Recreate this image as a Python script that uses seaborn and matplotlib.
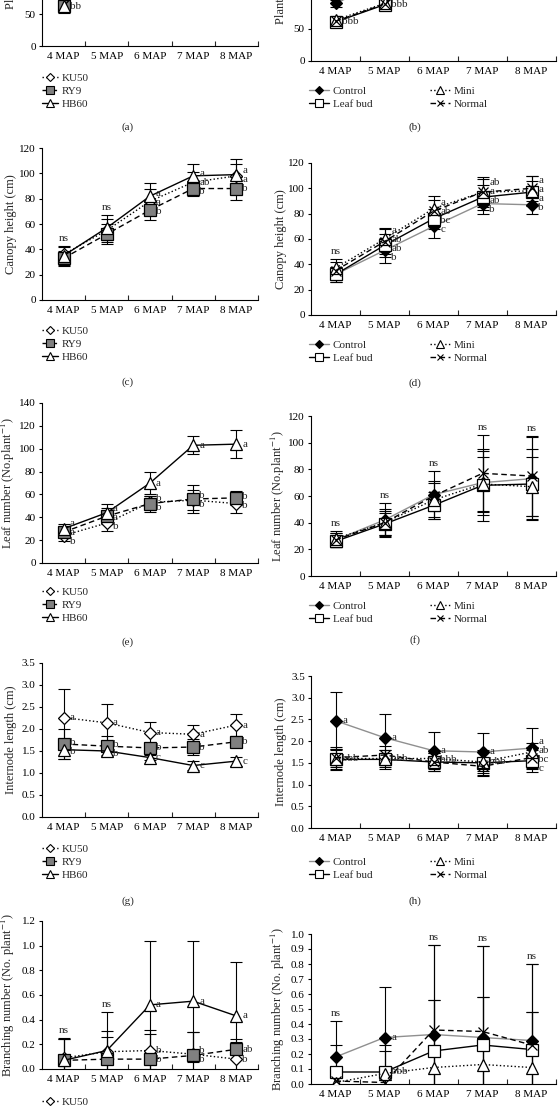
import matplotlib
matplotlib.use('Agg')
import seaborn as sns
import matplotlib.pyplot as plt
from matplotlib.lines import Line2D

W, H = 558, 1107

times = ['4 MAP', '5 MAP', '6 MAP', '7 MAP', '8 MAP']
cultivars = ['KU50', 'RY9', 'HB60']
treatments = ['Control', 'Leaf bud', 'Mini', 'Normal']

# (a) plant height by cultivar (only the bottom of this panel is in the crop)
height_cv_mean = [[65, 132, 178, 205, 220], [63, 126, 170, 198, 212], [62, 136, 184, 214, 228]]
height_cv_sd = [[9, 12, 14, 15, 15], [9, 12, 14, 15, 15], [10, 12, 14, 15, 15]]
height_cv_letters = [['', '', '', '', ''], ['', '', '', '', ''], ['bb', '', '', '', '']]
height_cv_ns = [False, False, False, False, False]

# (b) plant height by planting material
height_tr_mean = [[90, 125, 165, 195, 210], [61, 88, 150, 185, 205], [64, 90, 155, 190, 205], [62, 89, 152, 188, 206]]
height_tr_sd = [[6, 10, 12, 14, 15], [7, 6, 12, 14, 15], [7, 6, 12, 14, 15], [7, 6, 12, 14, 15]]
height_tr_letters = [['', '', '', '', ''], ['bbb', 'bbb', '', '', ''], ['', '', '', '', ''], ['', '', '', '', '']]
height_tr_ns = [False, False, False, False, False]

# (c) canopy height by cultivar
canopy_cv_mean = [[36, 55, 78, 93, 98], [33, 52, 71, 88, 88], [35, 57, 82, 98, 99]]
canopy_cv_sd = [[7, 9, 10, 8, 9], [6, 8, 8, 6, 9], [7, 10, 10, 9, 12]]
canopy_cv_letters = [['', '', 'a', 'ab', 'a'], ['', '', 'b', 'b', 'b'], ['', '', 'a', 'a', 'a']]
canopy_cv_ns = [True, True, False, False, False]

# (d) canopy height by planting material
canopy_tr_mean = [[32, 51, 70, 88, 87], [32, 55, 76, 93, 97], [37, 60, 84, 97, 98], [35, 58, 82, 97, 100]]
canopy_tr_sd = [[6, 10, 9, 8, 7], [6, 9, 8, 10, 9], [7, 9, 10, 12, 12], [7, 10, 9, 10, 10]]
canopy_tr_letters = [['', 'b', 'c', 'b', 'b'], ['', 'ab', 'bc', 'ab', 'a'], ['', 'a', 'a', 'a', 'a'], ['', 'ab', 'ab', 'ab', 'a']]
canopy_tr_ns = [True, False, False, False, False]

# (e) leaf number by cultivar
leaf_cv_mean = [[24, 35, 53, 55, 52], [27, 41, 52, 56, 57], [30, 44, 70, 103, 104]]
leaf_cv_sd = [[5, 7, 6, 9, 8], [4, 7, 7, 12, 6], [4, 8, 10, 8, 12]]
leaf_cv_letters = [['b', 'b', 'b', 'b', 'b'], ['a', 'a', 'b', 'b', 'b'], ['a', 'a', 'a', 'a', 'a']]
leaf_cv_ns = [False, False, False, False, False]

# (f) leaf number by planting material
leaf_tr_mean = [[27, 42, 61, 70, 73], [26, 39, 53, 68, 69], [28, 40, 57, 69, 67], [27, 40, 60, 77, 75]]
leaf_tr_sd = [[5, 13, 18, 24, 31], [4, 8, 10, 27, 26], [6, 10, 13, 20, 22], [5, 9, 11, 29, 30]]
leaf_tr_letters = [['', '', '', '', ''], ['', '', '', '', ''], ['', '', '', '', ''], ['', '', '', '', '']]
leaf_tr_ns = [True, True, True, True, True]

# (g) internode length by cultivar
inter_cv_mean = [[2.26, 2.14, 1.92, 1.88, 2.09], [1.66, 1.61, 1.57, 1.59, 1.71], [1.53, 1.50, 1.35, 1.17, 1.27]]
inter_cv_sd = [[0.64, 0.42, 0.23, 0.20, 0.26], [0.35, 0.22, 0.12, 0.18, 0.08], [0.21, 0.08, 0.06, 0.10, 0.10]]
inter_cv_letters = [['a', 'a', 'a', 'a', 'a'], ['b', 'b', 'b', 'b', 'b'], ['b', 'b', 'c', 'c', 'c']]
inter_cv_ns = [False, False, False, False, False]

# (h) internode length by planting material
inter_tr_mean = [[2.47, 2.08, 1.78, 1.75, 1.84], [1.58, 1.58, 1.52, 1.50, 1.55], [1.60, 1.60, 1.60, 1.52, 1.75], [1.62, 1.68, 1.52, 1.42, 1.62]]
inter_tr_sd = [[0.66, 0.55, 0.43, 0.43, 0.46], [0.25, 0.22, 0.20, 0.30, 0.25], [0.20, 0.20, 0.20, 0.25, 0.20], [0.25, 0.20, 0.20, 0.20, 0.25]]
inter_tr_letters = [['a', 'a', 'a', 'a', 'a'], ['', '', '', '', 'c'], ['bbb', 'bbb', 'bbb', 'bbb', 'ab'], ['', '', '', '', 'bc']]
inter_tr_ns = [False, False, False, False, False]

# (i) branching number by cultivar
branch_cv_mean = [[0.09, 0.14, 0.15, 0.12, 0.08], [0.07, 0.08, 0.08, 0.11, 0.16], [0.07, 0.15, 0.52, 0.55, 0.43]]
branch_cv_sd = [[0.16, 0.17, 0.17, 0.18, 0.14], [0.17, 0.18, 0.20, 0.19, 0.08], [0.17, 0.31, 0.52, 0.49, 0.44]]
branch_cv_letters = [['', '', 'b', 'b', 'b'], ['', '', 'b', 'b', 'ab'], ['', '', 'a', 'a', 'a']]
branch_cv_ns = [True, True, False, False, False]

# (j) branching number by planting material
branch_tr_mean = [[0.18, 0.31, 0.33, 0.31, 0.29], [0.08, 0.08, 0.22, 0.26, 0.23], [0.01, 0.07, 0.11, 0.13, 0.11], [0.02, 0.01, 0.36, 0.35, 0.26]]
branch_tr_sd = [[0.24, 0.34, 0.60, 0.61, 0.51], [0.18, 0.18, 0.34, 0.32, 0.25], [0.05, 0.15, 0.45, 0.45, 0.37], [0.06, 0.05, 0.57, 0.57, 0.54]]
branch_tr_letters = [['', 'a', '', '', ''], ['', 'bbb', '', '', ''], ['', '', '', '', ''], ['', '', '', '', '']]
branch_tr_ns = [True, False, True, True, True]

sns.set_theme(style='ticks')
plt.rcParams['font.family'] = ['Liberation Serif', 'DejaVu Serif']
plt.rcParams['mathtext.fontset'] = 'stix'
plt.rcParams['axes.linewidth'] = 0.8

cv_styles = {
    'KU50': dict(color='black', ls=':', marker='D', mfc='white', ms=6.5),
    'RY9': dict(color='black', ls=(0, (4, 2.5)), marker='s', mfc='#808080', ms=8),
    'HB60': dict(color='black', ls='-', marker='^', mfc='white', ms=9),
}
tr_styles = {
    'Control': dict(color='#8f8f8f', ls='-', marker='D', mfc='black', ms=6),
    'Leaf bud': dict(color='black', ls='-', marker='s', mfc='white', ms=8),
    'Mini': dict(color='black', ls=':', marker='^', mfc='white', ms=8),
    'Normal': dict(color='black', ls=(0, (4, 2.5)), marker='x', mfc='black', ms=7),
}

fig = plt.figure(figsize=(W / 100, H / 100), dpi=100)
xpos = [0, 1, 2, 3, 4]


def px_rect(left, top, right, bottom):
    return [left / W, 1 - bottom / H, (right - left) / W, (bottom - top) / H]


def place_letters(ax, means, letters):
    # letters sit right of the markers; push apart where they would collide
    for j in range(len(times)):
        items = []
        for i in range(len(means)):
            if letters[i][j]:
                ypx = ax.transData.transform((j, means[i][j]))[1]
                items.append([ypx, letters[i][j]])
        items.sort()
        for _ in range(40):
            for k in range(1, len(items)):
                d = items[k][0] - items[k - 1][0]
                if d < 9:
                    items[k][0] += (9 - d) / 2
                    items[k - 1][0] -= (9 - d) / 2
        for ypx, t in items:
            yd = ax.transData.inverted().transform((0, ypx))[1]
            ax.text(j + 0.14, yd, t, ha='left', va='center', fontsize=8)


def draw_panel(rect, names, styles, means, sds, letters, ns, ylim, yticks, fmt,
               ylabel, label_x, legend_xy, tag, tag_xy):
    ax = fig.add_axes(px_rect(*rect))
    for i, name in enumerate(names):
        st = styles[name]
        ax.errorbar(xpos, means[i], yerr=sds[i], fmt='none', ecolor='black',
                    elinewidth=0.8, capsize=4.5, capthick=0.8, zorder=2)
        sns.lineplot(x=xpos, y=means[i], ax=ax, color=st['color'], linestyle=st['ls'],
                     linewidth=1.0, marker=st['marker'], markersize=st['ms'],
                     markerfacecolor=st['mfc'], markeredgecolor='black',
                     markeredgewidth=0.9, errorbar=None, legend=False, zorder=3)
    ax.set_xlim(-0.5, 4.5)
    ax.set_ylim(*ylim)
    ax.set_xticks(xpos)
    ax.set_xticklabels(times)
    ax.set_xticks([0.5, 1.5, 2.5, 3.5, 4.5], minor=True)
    ax.tick_params(axis='x', which='major', length=0, pad=4.5, labelsize=8, colors='black')
    ax.tick_params(axis='x', which='minor', direction='in', length=3.5, width=0.8)
    ax.set_yticks(yticks)
    ax.set_yticklabels([fmt.format(v) for v in yticks])
    ax.tick_params(axis='y', direction='out', length=2.5, width=0.8, pad=2, labelsize=8, colors='black')
    for sp in ax.spines.values():
        sp.set_color('black')
    sns.despine(ax=ax)
    ax.set_ylabel(ylabel, fontsize=9)
    ax.yaxis.set_label_coords(label_x, 0.5)

    place_letters(ax, means, letters)
    for j in range(len(times)):
        if ns[j]:
            top = max(means[i][j] + sds[i][j] for i in range(len(names)))
            ax.annotate('ns', (j, top), xytext=(0, 2), textcoords='offset points',
                        ha='center', va='bottom', fontsize=8)

    handles = []
    for name in names:
        st = styles[name]
        handles.append(Line2D([], [], color=st['color'], ls=st['ls'], lw=1.0,
                              marker=st['marker'], ms=st['ms'] * 0.65,
                              mfc=st['mfc'], mec='black', mew=0.8))
    ncol = 1 if len(names) == 3 else 2
    fig.legend(handles, names, loc='upper left',
               bbox_to_anchor=(legend_xy[0] / W, 1 - legend_xy[1] / H),
               bbox_transform=fig.transFigure, frameon=False, ncol=ncol,
               fontsize=8, borderpad=0, borderaxespad=0,
               handlelength=1.4 if ncol == 1 else 1.8,
               handletextpad=0.35, labelspacing=0.28, columnspacing=5.2)
    fig.text(tag_xy[0] / W, 1 - tag_xy[1] / H, tag, ha='center', va='center', fontsize=8)
    return ax


LX = (42, 258)
RX = (311, 556)
# y-label anchor is the right edge of the rotated text
lab_l = (17 - 42) / 216
lab_r = (287 - 311) / 245

draw_panel((LX[0], -114, LX[1], 46), cultivars, cv_styles, height_cv_mean, height_cv_sd,
           height_cv_letters, height_cv_ns, (0, 250), [0, 50, 100, 150, 200, 250], '{:.0f}',
           'Plant height (cm)', lab_l, (42, 73), '(a)', (128, 127))
draw_panel((RX[0], -99, RX[1], 61), treatments, tr_styles, height_tr_mean, height_tr_sd,
           height_tr_letters, height_tr_ns, (0, 250), [0, 50, 100, 150, 200, 250], '{:.0f}',
           'Plant height (cm)', lab_r, (309, 86), '(b)', (415, 127))
draw_panel((LX[0], 148, LX[1], 300), cultivars, cv_styles, canopy_cv_mean, canopy_cv_sd,
           canopy_cv_letters, canopy_cv_ns, (0, 120), [0, 20, 40, 60, 80, 100, 120], '{:.0f}',
           'Canopy height (cm)', lab_l, (42, 326), '(c)', (128, 382))
draw_panel((RX[0], 163, RX[1], 315), treatments, tr_styles, canopy_tr_mean, canopy_tr_sd,
           canopy_tr_letters, canopy_tr_ns, (0, 120), [0, 20, 40, 60, 80, 100, 120], '{:.0f}',
           'Canopy height (cm)', lab_r, (309, 340), '(d)', (415, 383))
draw_panel((LX[0], 403, LX[1], 563), cultivars, cv_styles, leaf_cv_mean, leaf_cv_sd,
           leaf_cv_letters, leaf_cv_ns, (0, 140), [0, 20, 40, 60, 80, 100, 120, 140], '{:.0f}',
           'Leaf number (No.plant$^{-1}$)', lab_l, (42, 587), '(e)', (128, 642))
draw_panel((RX[0], 416, RX[1], 576), treatments, tr_styles, leaf_tr_mean, leaf_tr_sd,
           leaf_tr_letters, leaf_tr_ns, (0, 120), [0, 20, 40, 60, 80, 100, 120], '{:.0f}',
           'Leaf number (No.plant$^{-1}$)', lab_r, (309, 601), '(f)', (415, 640))
draw_panel((LX[0], 663, LX[1], 817), cultivars, cv_styles, inter_cv_mean, inter_cv_sd,
           inter_cv_letters, inter_cv_ns, (0, 3.5), [0, 0.5, 1.0, 1.5, 2.0, 2.5, 3.0, 3.5], '{:.1f}',
           'Internode length (cm)', lab_l, (42, 844), '(g)', (128, 901))
draw_panel((RX[0], 676, RX[1], 828), treatments, tr_styles, inter_tr_mean, inter_tr_sd,
           inter_tr_letters, inter_tr_ns, (0, 3.5), [0, 0.5, 1.0, 1.5, 2.0, 2.5, 3.0, 3.5], '{:.1f}',
           'Internode length (cm)', lab_r, (309, 857), '(h)', (415, 901))
draw_panel((LX[0], 921, LX[1], 1069), cultivars, cv_styles, branch_cv_mean, branch_cv_sd,
           branch_cv_letters, branch_cv_ns, (0, 1.2), [0, 0.2, 0.4, 0.6, 0.8, 1.0, 1.2], '{:.1f}',
           'Branching number (No. plant$^{-1}$)', lab_l, (42, 1097), '(i)', (128, 1160))
draw_panel((RX[0], 934, RX[1], 1084), treatments, tr_styles, branch_tr_mean, branch_tr_sd,
           branch_tr_letters, branch_tr_ns, (0, 1.0),
           [0, 0.1, 0.2, 0.3, 0.4, 0.5, 0.6, 0.7, 0.8, 0.9, 1.0], '{:.1f}',
           'Branching number (No. plant$^{-1}$)', lab_r, (309, 1112), '(j)', (415, 1160))

fig.savefig('out.png', dpi=100)
